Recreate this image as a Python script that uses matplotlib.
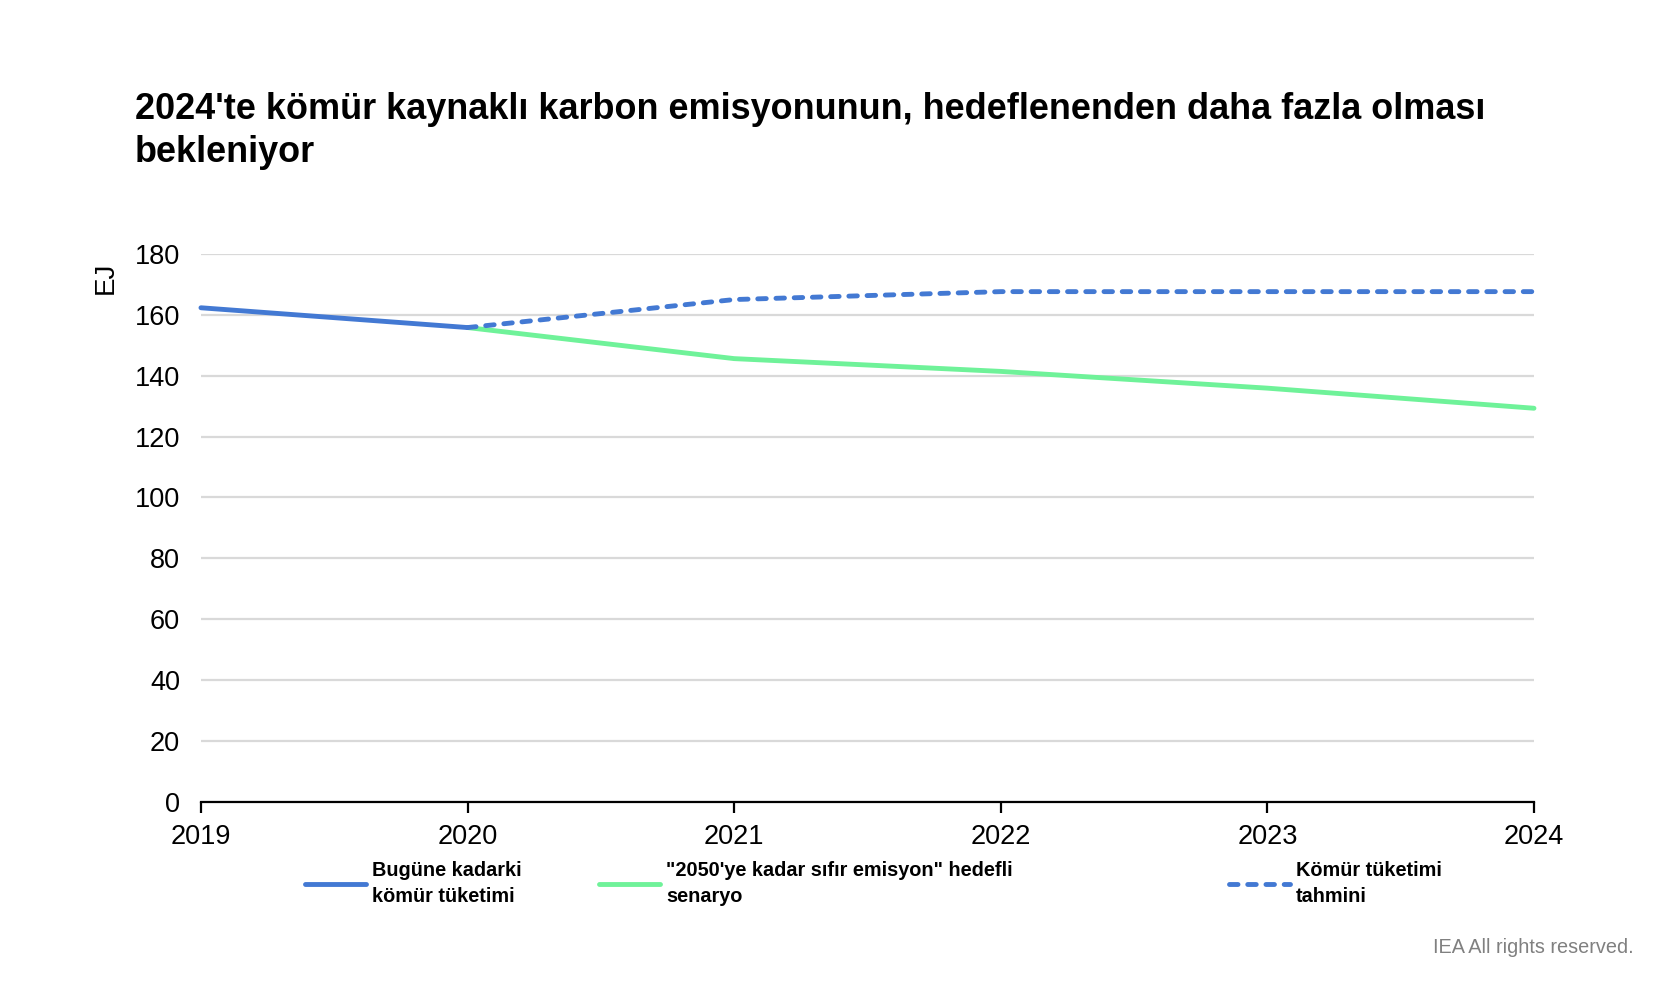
import matplotlib
matplotlib.use('Agg')
import matplotlib.pyplot as plt

plt.rcParams['font.family'] = ['Liberation Sans', 'DejaVu Sans']

# values (EJ)
years_hist = [2019, 2020]
coal_hist = [162.3, 155.8]

years_nze = [2020, 2021, 2022, 2023, 2024]
coal_nze = [155.8, 145.6, 141.4, 135.9, 129.3]

years_fc = [2020, 2021, 2022, 2023, 2024]
coal_fc = [155.8, 165.0, 167.6, 167.6, 167.6]

xticks = [2019, 2020, 2021, 2022, 2023, 2024]
yticks = [0, 20, 40, 60, 80, 100, 120, 140, 160, 180]

lab_hist = 'Bugüne kadarki\nkömür tüketimi'
lab_nze = '"2050\'ye kadar sıfır emisyon" hedefli\nsenaryo'
lab_fc = 'Kömür tüketimi\ntahmini'

blue = '#4379d3'
green = '#6ff299'

fig = plt.figure(figsize=(16.58, 9.84), dpi=100)
ax = fig.add_axes([0.1212, 0.1850, 0.8040, 0.5570])

l_nze, = ax.plot(years_nze, coal_nze, color=green, lw=3.5, solid_capstyle='round', clip_on=False, zorder=3)
l_hist, = ax.plot(years_hist, coal_hist, color=blue, lw=3.5, solid_capstyle='round', clip_on=False, zorder=4)
l_fc, = ax.plot(years_fc, coal_fc, color=blue, lw=3.5, dashes=(1.75, 2.0), dash_capstyle='round', clip_on=False, zorder=4)

ax.set_xlim(2019, 2024)
ax.set_ylim(0, 180)
ax.set_xticks(xticks)
ax.set_yticks(yticks)
ax.grid(axis='y', color='#d9d9d9', lw=1.6)
ax.set_axisbelow(True)
for s in ['top', 'right', 'left']:
    ax.spines[s].set_visible(False)
ax.spines['bottom'].set_linewidth(1.6)
ax.spines['bottom'].set_zorder(5)
ax.tick_params(axis='x', direction='out', length=8, width=1.6, pad=8, labelsize=19.5)
ax.tick_params(axis='y', length=0, pad=15, labelsize=19.5)

fig.text(0.0815, 0.8354, "2024'te kömür kaynaklı karbon emisyonunun, hedeflenenden daha fazla olması\nbekleniyor",
         fontsize=25.9, fontweight='bold', ha='left', va='baseline', linespacing=1.3)
fig.text(0.064, 0.718, 'EJ', rotation=90, fontsize=20, ha='center', va='center')

for h, lab, xpos in [(l_hist, lab_hist, 0.1837), (l_nze, lab_nze, 0.361), (l_fc, lab_fc, 0.741)]:
    leg = fig.legend([h], [lab], loc='center left', bbox_to_anchor=(xpos, 0.1020), frameon=False,
                     borderpad=0, borderaxespad=0, handlelength=3.1, handletextpad=0.3,
                     prop={'size': 14.3, 'weight': 'bold'})
    for t in leg.get_texts():
        t.set_linespacing(1.5)

fig.text(0.985, 0.032, 'IEA All rights reserved.', fontsize=14.3, color='#808080', ha='right', va='baseline')

fig.savefig('out.png', dpi=100)
